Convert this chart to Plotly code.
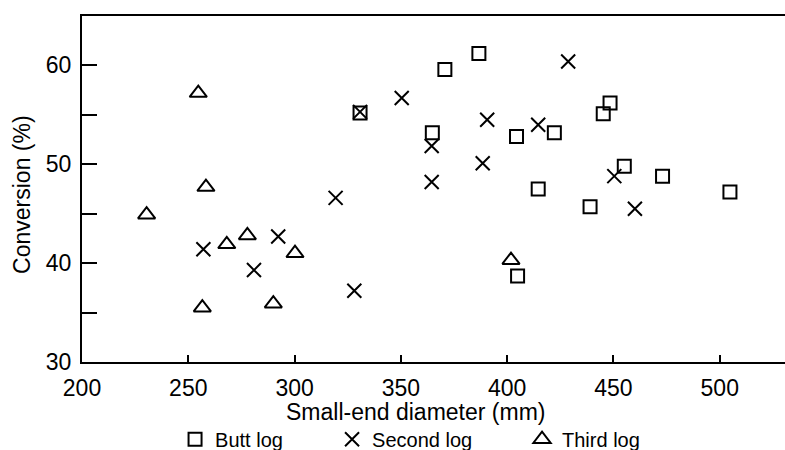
import plotly.graph_objects as go

# ---- data ----
butt_x = [330.8, 364.8, 370.7, 386.7, 404.4, 422.2, 448.4, 445.2, 455.1, 473.1, 504.8, 414.6, 439.0, 404.9]
butt_y = [55.2, 53.2, 59.6, 61.2, 52.8, 53.2, 56.2, 55.1, 49.8, 48.8, 47.2, 47.5, 45.7, 38.7]

second_x = [257.1, 280.9, 292.3, 319.3, 328.1, 330.8, 350.4, 364.5, 364.5, 388.5, 390.6, 414.6, 428.7, 450.4, 460.1]
second_y = [41.4, 39.3, 42.7, 46.6, 37.2, 55.3, 56.7, 51.85, 48.2, 50.1, 54.5, 54.0, 60.4, 48.8, 45.5]

third_x = [230.4, 254.7, 256.6, 258.3, 268.1, 277.8, 290.0, 300.2, 401.8]
third_y = [44.9, 57.2, 35.5, 47.7, 41.9, 42.8, 35.9, 41.0, 40.3]

x_ticks = [200, 250, 300, 350, 400, 450, 500]
y_ticks = [30, 35, 40, 45, 50, 55, 60]
y_ticklabels = ["30", "", "40", "", "50", "", "60"]

FONT = "Liberation Sans, Arial, Helvetica, sans-serif"

fig = go.Figure()
fig.add_trace(go.Scatter(
    x=butt_x, y=butt_y, mode="markers", name="Butt log", legend="legend",
    marker=dict(symbol="square-open", size=13, color="black", line=dict(width=2, color="black")),
))
fig.add_trace(go.Scatter(
    x=second_x, y=second_y, mode="markers", name="Second log", legend="legend2",
    marker=dict(symbol="x-thin-open", size=14, color="black", line=dict(width=2, color="black")),
))
fig.add_trace(go.Scatter(
    x=third_x, y=third_y, mode="markers", name="Third log", legend="legend3",
    marker=dict(symbol="triangle-up-open", size=15, color="black", line=dict(width=2, color="black")),
))

leg_common = dict(orientation="h", yanchor="middle", xanchor="left", y=0.024,
                  xref="container", yref="container",
                  bgcolor="rgba(0,0,0,0)", font=dict(family=FONT, size=20, color="black"))

fig.update_layout(
    width=785, height=450,
    margin=dict(l=82, r=0, t=16, b=88, autoexpand=False),
    paper_bgcolor="white", plot_bgcolor="white",
    font=dict(family=FONT, size=22, color="black"),
    showlegend=True,
    legend=dict(x=0.223, **leg_common),
    legend2=dict(x=0.423, **leg_common),
    legend3=dict(x=0.665, **leg_common),
    xaxis=dict(
        range=[200, 530.7], tickmode="array", tickvals=x_ticks,
        ticks="inside", ticklen=7, tickwidth=2, tickcolor="black",
        showline=True, linewidth=2, linecolor="black", mirror=True,
        showgrid=False, zeroline=False, ticklabelstandoff=4, automargin=False,
        tickfont=dict(family=FONT, size=23, color="black"),
    ),
    yaxis=dict(
        range=[30, 65], tickmode="array", tickvals=y_ticks, ticktext=y_ticklabels,
        ticks="inside", ticklen=15, tickwidth=2, tickcolor="black",
        showline=True, linewidth=2, linecolor="black",
        showgrid=False, zeroline=False, ticklabelstandoff=4, automargin=False,
        tickfont=dict(family=FONT, size=23, color="black"),
    ),
    annotations=[
        dict(text="Small-end diameter (mm)", xref="paper", yref="paper",
             x=0.475, y=-0.145, xanchor="center", yanchor="middle", showarrow=False,
             font=dict(family=FONT, size=23, color="black")),
        dict(text="Conversion (%)", xref="paper", yref="paper", textangle=-90,
             x=-0.0853, y=0.483, xanchor="center", yanchor="middle", showarrow=False,
             font=dict(family=FONT, size=23, color="black")),
    ],
)

fig.write_html(
    "out.html",
    config={"displayModeBar": False},
    post_script="document.body.style.margin='0';document.body.style.overflow='hidden';",
)
